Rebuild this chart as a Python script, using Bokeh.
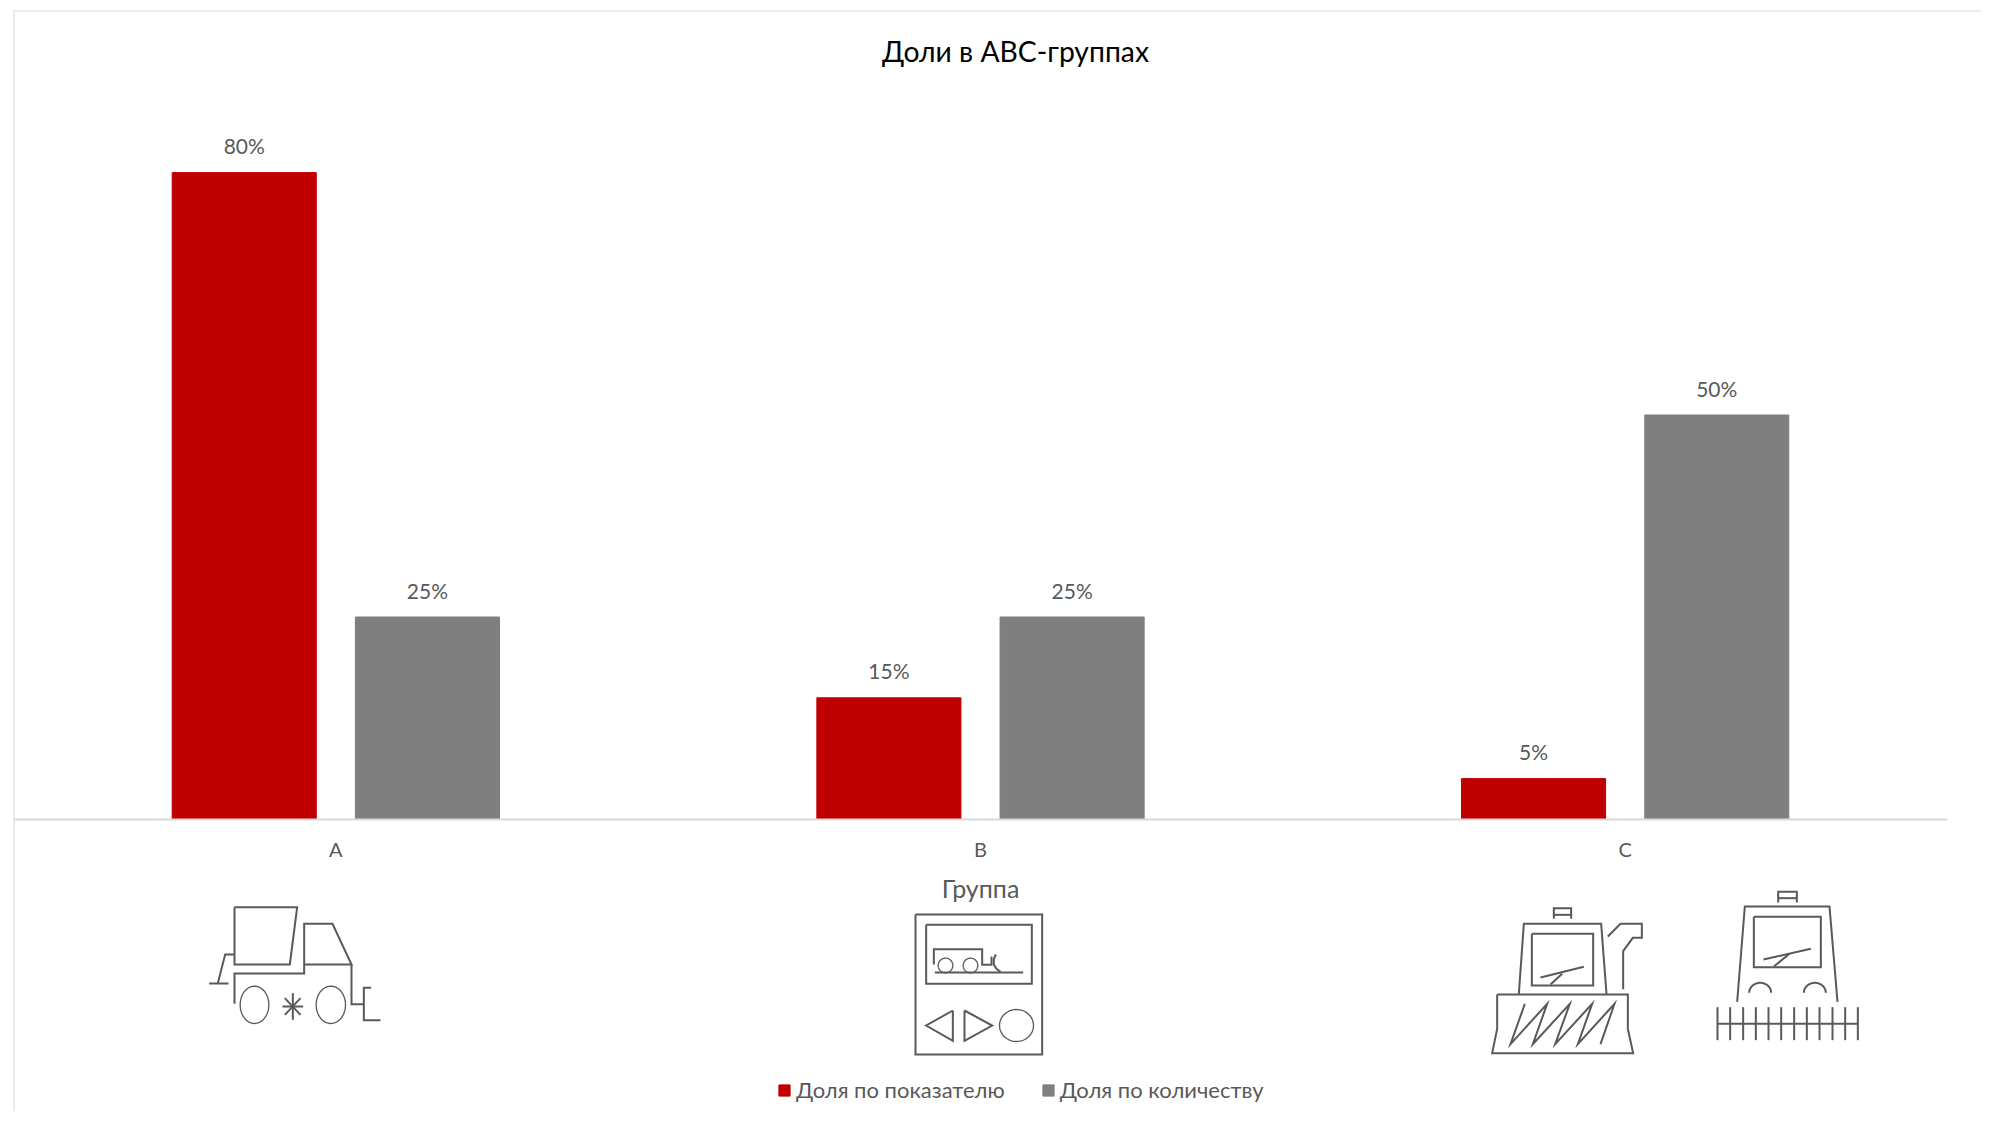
import numpy as np
from bokeh.core.properties import value
from bokeh.embed import file_html
from bokeh.models import ColumnDataSource, FixedTicker, Legend, LegendItem, LinearScale, Range1d, Span
from bokeh.plotting import figure
from bokeh.resources import INLINE

title_text = "Доли в АВС-группах"
axis_title = "Группа"
groups = ["A", "B", "C"]
share_metric = [80, 15, 5]
share_count = [25, 25, 50]
series_names = ["Доля по показателю", "Доля по количеству"]

FONT = "Lato"
TXT = "#595959"
LINE = "#d9d9d9"
LEFT, TOP, RIGHT, BOTTOM = 13, 10, 1981, 1111
GROUP_W = 644.67
BASE = 818.5
PX_PER_UNIT = 8.08

p = figure(
    width=1981, height=1111, output_backend="svg", toolbar_location=None,
    x_range=Range1d(0, (RIGHT - LEFT) / GROUP_W),
    y_range=Range1d(-(BOTTOM - BASE) / PX_PER_UNIT, (BASE - TOP) / PX_PER_UNIT),
    y_axis_location=None, min_border_left=LEFT, min_border_top=TOP, min_border_right=0, min_border_bottom=0,
    outline_line_color=None, background_fill_color="white", border_fill_color="white",
)
p.grid.visible = False
p.extra_x_ranges["px"] = Range1d(LEFT, RIGHT)
p.extra_y_ranges["px"] = Range1d(BOTTOM, TOP)
p.extra_x_scales["px"] = LinearScale()
p.extra_y_scales["px"] = LinearScale()

p.add_layout(Span(location=0, dimension="height", line_color=LINE, line_width=2))
p.add_layout(Span(location=(BASE - TOP) / PX_PER_UNIT, dimension="width", line_color=LINE, line_width=2))

centers = np.arange(len(groups)) + 0.5
OFFSET, BAR_W = 0.1421, 0.2235
src = ColumnDataSource(dict(
    xa=centers - OFFSET, xb=centers + OFFSET, a=share_metric, b=share_count,
    la=[f"{v}%" for v in share_metric], lb=[f"{v}%" for v in share_count],
))
r1 = p.vbar(x="xa", top="a", bottom=0, width=BAR_W, color="#C00000", source=src)
r2 = p.vbar(x="xb", top="b", bottom=0, width=BAR_W, color="#7F7F7F", source=src)
lab = dict(source=src, text_align="center", text_baseline="middle", y_offset=-27,
           text_color=TXT, text_font=value(FONT), text_font_size="21px")
p.text(x="xa", y="a", text="la", **lab)
p.text(x="xb", y="b", text="lb", **lab)

ax = p.xaxis[0]
ax.fixed_location = 0
ax.bounds = (0, len(groups))
ax.ticker = FixedTicker(ticks=list(centers))
ax.major_label_overrides = {float(c): g for c, g in zip(centers, groups)}
ax.major_tick_line_color = None
ax.minor_tick_line_color = None
ax.axis_line_color = LINE
ax.axis_line_width = 2
ax.major_label_text_color = TXT
ax.major_label_text_font = FONT
ax.major_label_text_font_size = "20px"
ax.major_label_standoff = 12
ax.axis_label = axis_title
ax.axis_label_text_color = TXT
ax.axis_label_text_font = FONT
ax.axis_label_text_font_style = "normal"
ax.axis_label_text_font_size = "25px"
ax.axis_label_standoff = 8

p.text(x=[1015], y=[50], text=[title_text], x_range_name="px", y_range_name="px",
       text_align="center", text_baseline="middle", text_color="#000000",
       text_font=value(FONT), text_font_size="28.3px")

legend = Legend(
    items=[LegendItem(label=series_names[0], renderers=[r1]), LegendItem(label=series_names[1], renderers=[r2])],
    location=(764, 8), orientation="horizontal", background_fill_alpha=0, border_line_color=None,
    padding=0, margin=0, spacing=36, glyph_width=14, glyph_height=14, label_standoff=5,
    label_text_font=FONT, label_text_font_size="22px", label_text_color=TXT,
)
p.add_layout(legend)


# ---- pictograms, traced in crop coordinates of the picture (3x), anchored by an origin ----
def place(origin, pts):
    pts = np.asarray(pts, dtype=float)
    return origin[0] + pts[:, 0] / 3, origin[1] + pts[:, 1] / 3


def rect(x0, y0, x1, y1):
    return [(x0, y0), (x1, y0), (x1, y1), (x0, y1), (x0, y0)]


def oval(cx, cy, rx, ry, a0=0, a1=360):
    t = np.radians(np.linspace(a0, a1, 60))
    return list(zip(cx + rx * np.cos(t), cy + ry * np.sin(t)))


def draw(origin, thick, thin=()):
    for width, lines in ((2.0, thick), (1.3, thin)):
        xs, ys = [], []
        for ln in lines:
            x, y = place(origin, ln)
            xs.append(list(x))
            ys.append(list(y))
        if xs:
            p.multi_line(xs, ys, x_range_name="px", y_range_name="px", line_color=TXT,
                         line_width=width, line_join="miter")


draw((180, 860), [
    [(162, 140), (350, 140), (328, 312), (162, 312), (162, 140)],
    [(162, 282), (134, 282), (112, 368)],
    [(86, 369), (144, 369)],
    [(162, 430), (162, 339), (371, 339), (371, 190), (456, 190), (513, 312), (371, 312)],
    [(513, 312), (513, 431), (550, 431)],
    [(572, 382), (550, 382), (550, 479), (600, 479)],
    [(306, 438), (368, 438)], [(337, 398), (337, 478)],
    [(313, 413), (360, 463)], [(360, 413), (313, 463)],
], [oval(222, 433, 43, 56), oval(451, 433, 44, 56)])

draw((890, 860), [
    rect(75, 162, 455, 582), rect(107, 193, 424, 370),
    [(130, 312), (130, 266), (275, 266), (275, 313), (303, 313), (303, 288)],
    [(133, 336), (398, 336)],
    [(316, 282), (310, 296), (310, 312), (318, 325), (330, 334)],
    [(187, 450), (107, 495), (187, 541), (187, 450)],
    [(222, 450), (305, 495), (222, 541), (222, 450)],
], [oval(165, 315, 22, 22), oval(240, 315, 22, 22), oval(378, 495, 51, 48)])

draw((1470, 880), [
    [(250, 115), (250, 83), (302, 83), (302, 115)], [(250, 103), (302, 103)],
    [(145, 340), (160, 130), (392, 130), (408, 340)],
    rect(184, 160, 368, 315),
    [(210, 291), (340, 259)], [(240, 312), (275, 280)],
    [(412, 168), (450, 130), (514, 130), (514, 172), (487, 172), (458, 212), (458, 326)],
    [(80, 342), (472, 342), (472, 445), (488, 518), (65, 518), (80, 445), (80, 342)],
    [(163, 370), (120, 491), (230, 370), (187, 491), (298, 370), (254, 491), (365, 370), (322, 491), (432, 370), (390, 491)],
])

comb = [[(x, 380), (x, 479)] for x in (81, 119, 158, 196, 234, 272, 311, 349, 387, 426, 464, 502)]
draw((1690, 880), [
    [(263, 66), (263, 34), (319, 34), (319, 66)], [(263, 53), (319, 53)],
    [(140, 364), (163, 78), (417, 78), (441, 364)],
    rect(190, 109, 391, 260),
    [(219, 237), (361, 205)], [(250, 258), (297, 220)],
    oval(209, 337, 33, 30, 180, 360), oval(373, 337, 33, 30, 180, 360),
    [(81, 430), (502, 430)],
] + comb)

open("out.html", "w").write(file_html(p, INLINE))
